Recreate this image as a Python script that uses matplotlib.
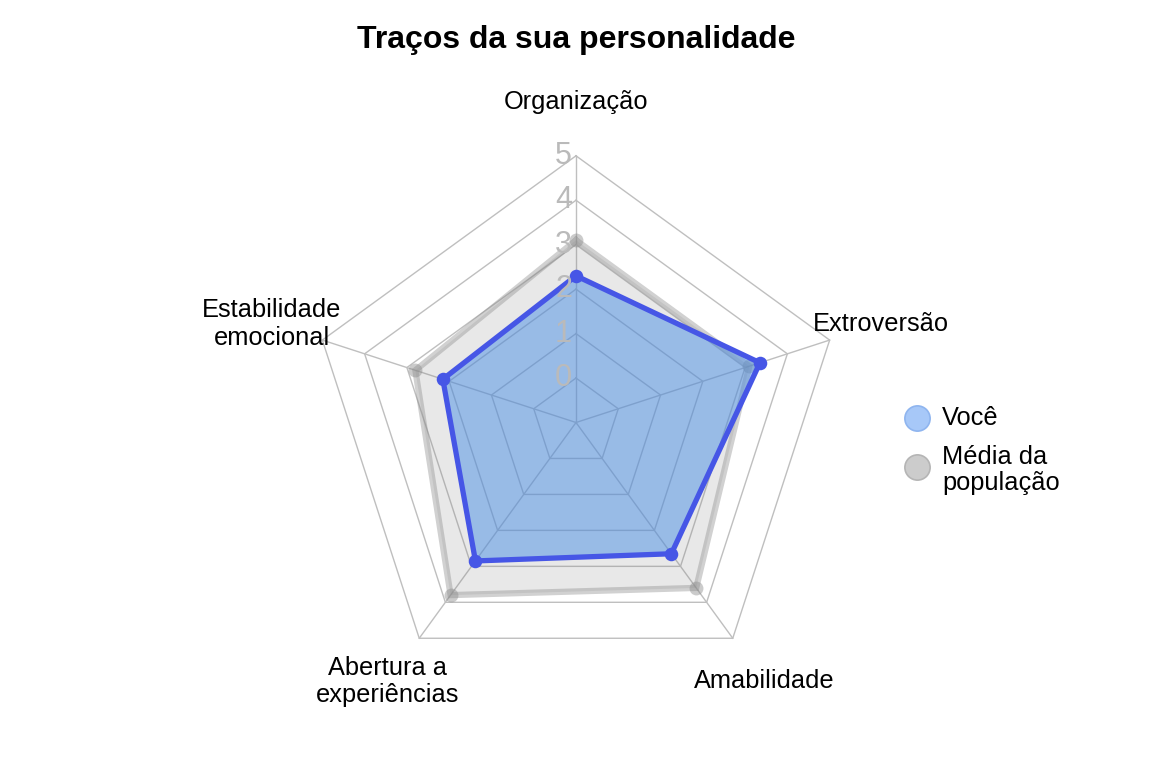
import numpy as np
import matplotlib

matplotlib.use("Agg")
import matplotlib.pyplot as plt

plt.rcParams["font.family"] = ["Liberation Sans", "DejaVu Sans"]

# data (clockwise from top)
traits = ["Organização", "Extroversão", "Amabilidade",
          "Abertura a\nexperiências", "Estabilidade\nemocional"]
voce = [2.3, 3.35, 2.65, 2.85, 2.15]
media = [3.1, 3.1, 3.6, 3.8, 2.8]
vmin, vmax, seg = 0, 5, 5
axis_labels = ["0", "1", "2", "3", "4", "5"]

W, H = 1152, 768
cx, cy, R = 576, 422.5, 266.7  # pixel centre and outer radius

fig = plt.figure(figsize=(W / 100, H / 100), dpi=100)
ax = fig.add_axes([0, 0, 1, 1])
ax.set_xlim(-cx / R, (W - cx) / R)
ax.set_ylim(-(H - cy) / R, cy / R)
ax.axis("off")

n = len(traits)
ang = np.deg2rad(90 - 72 * np.arange(n))
xx, yy = np.cos(ang), np.sin(ang)


def radius(v):
    # fmsb style: minimum sits on the first ring (centerzero = FALSE)
    s = (np.asarray(v) - vmin) / (vmax - vmin)
    return (s * seg + 1) / (seg + 1)


# grid
grid_c = "#bfbfbf"
for i in range(seg + 1):
    r = (i + 1) / (seg + 1)
    ax.plot(np.append(xx, xx[0]) * r, np.append(yy, yy[0]) * r,
            color=grid_c, lw=1.0, zorder=1)
for k in range(n):
    ax.plot([0, xx[k]], [0, yy[k]], color=grid_c, lw=1.0, zorder=1)

# population
rm = radius(media)
px, py = xx * rm, yy * rm
ax.fill(px, py, color="#808080", alpha=0.18, lw=0, zorder=2)
ax.plot(np.append(px, px[0]), np.append(py, py[0]), color="#8c8c8c",
        alpha=0.4, lw=4.5, solid_joinstyle="miter", zorder=3)
ax.scatter(px, py, s=100, color="#8c8c8c", alpha=0.45, lw=0, zorder=3)

# you
rv = radius(voce)
bx, by = xx * rv, yy * rv
ax.fill(bx, by, color="#4a8fe6", alpha=0.5, lw=0, zorder=4)
ax.plot(np.append(bx, bx[0]), np.append(by, by[0]), color="#4656e6",
        lw=3.8, solid_joinstyle="miter", zorder=5)
ax.scatter(bx, by, s=95, color="#4656e6", lw=0, zorder=6)

# axis value labels
for i, lab in enumerate(axis_labels):
    r = (i + 1) / (seg + 1)
    ax.text(-0.015, r, lab, ha="right", va="center", fontsize=22,
            color="#bababa", zorder=7)

# trait labels
for k, t in enumerate(traits):
    ax.text(xx[k] * 1.2, yy[k] * 1.2, t, ha="center", va="center",
            fontsize=18.3, linespacing=1.2, zorder=7)

ax.text(0, 1.433, "Traços da sua personalidade", ha="center", va="center",
        fontsize=23, fontweight="bold")

# legend
lx = (917 - cx) / R
ly1, ly2 = (cy - 418) / R, (cy - 467) / R
ax.scatter([lx], [ly1], s=330, color="#a7c8f8", edgecolor="#8fb5ef", lw=1.2)
ax.scatter([lx], [ly2], s=330, color="#cccccc", edgecolor="#b5b5b5", lw=1.2)
ax.text(lx + 25 / R, ly1, "Você", ha="left", va="center", fontsize=18.3)
ax.text(lx + 25 / R, (cy - 470) / R, "Média da\npopulação", ha="left",
        va="center", fontsize=18.3, linespacing=1.1)

fig.savefig("out.png", dpi=100)
